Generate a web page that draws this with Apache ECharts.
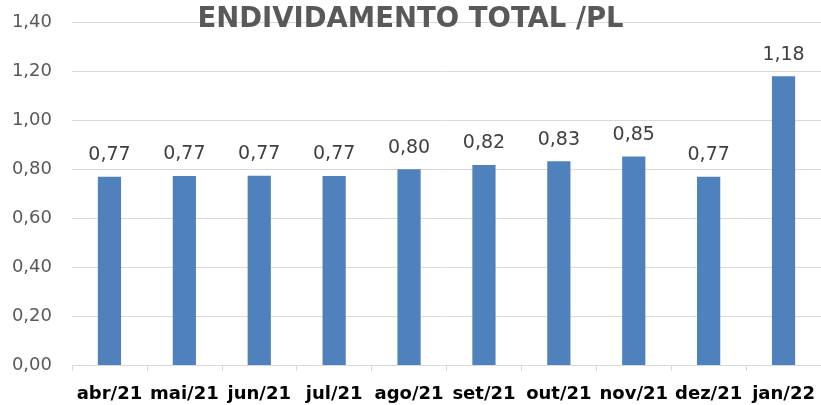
<!DOCTYPE html>
<html>
<head>
<meta charset="utf-8">
<script src="https://cdn.jsdelivr.net/npm/echarts@6/dist/echarts.min.js"></script>
<style>html,body{margin:0;padding:0;background:#fff}#c{width:821px;height:405px}</style>
</head>
<body>
<div id="c"></div>
<script>
var titleText = 'ENDIVIDAMENTO TOTAL /PL';
var categories = ['abr/21','mai/21','jun/21','jul/21','ago/21','set/21','out/21','nov/21','dez/21','jan/22'];
var values = [0.769, 0.773, 0.774, 0.773, 0.80, 0.818, 0.833, 0.852, 0.769, 1.18];
var yMin = 0, yMax = 1.4, yStep = 0.2;

function fmt(v){ return v.toFixed(2).replace('.', ','); }

var chart = echarts.init(document.getElementById('c'), null, {renderer:'canvas'});
chart.setOption({
  animation: false,
  backgroundColor: '#ffffff',
  title: {
    text: titleText, left: 'center', top: 1,
    textStyle: {fontFamily: 'DejaVu Sans', fontSize: 27.5, fontWeight: 'bold', color: '#595959'}
  },
  grid: {left: 72, top: 22.5, width: 752, height: 342.5, containLabel: false},
  xAxis: {
    type: 'category', data: categories,
    axisLine: {lineStyle: {color: '#d9d9d9', width: 1}},
    axisTick: {show: true, length: 6, lineStyle: {color: '#d9d9d9'}},
    axisLabel: {fontFamily: 'DejaVu Sans', fontSize: 18, fontWeight: 'bold', color: '#000000', margin: 20, interval: 0}
  },
  yAxis: {
    type: 'value', min: yMin, max: yMax, interval: yStep,
    axisLine: {show: false}, axisTick: {show: false},
    splitLine: {lineStyle: {color: '#d9d9d9', width: 1}},
    axisLabel: {fontFamily: 'DejaVu Sans', fontSize: 18, color: '#595959', margin: 20,
      formatter: function(v){ return fmt(v); }}
  },
  series: [{
    type: 'bar', data: values, barWidth: '31%',
    itemStyle: {color: '#4f81bd'},
    label: {show: true, position: 'top', distance: 12, fontFamily: 'DejaVu Sans', fontSize: 19, color: '#404040',
      formatter: function(p){ return fmt(p.value); }}
  }]
});
</script>
</body>
</html>
